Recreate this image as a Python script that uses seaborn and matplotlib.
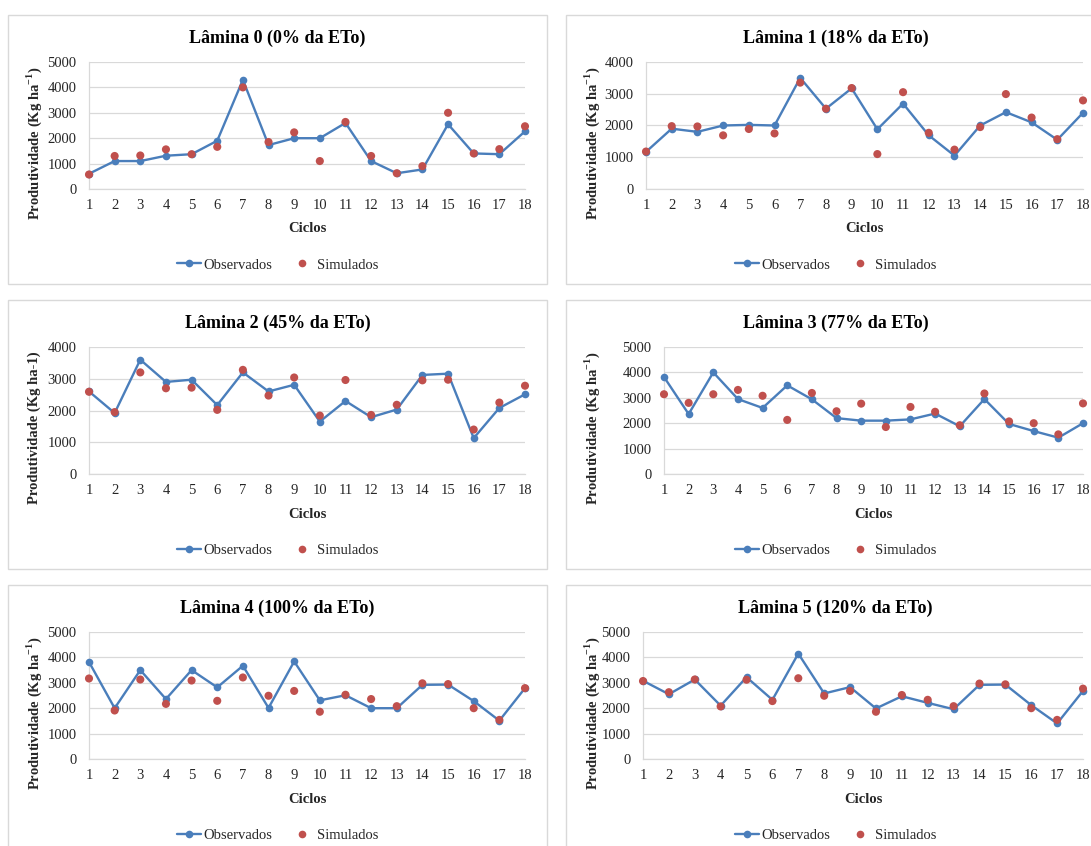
import matplotlib
matplotlib.use("Agg")
import matplotlib.pyplot as plt
from matplotlib.patches import Rectangle
from matplotlib.lines import Line2D
import seaborn as sns
import pandas as pd

# Yield per cycle (Kg ha-1) for each irrigation depth
ciclos = list(range(1, 19))

obs_l0 = [600, 1100, 1100, 1310, 1370, 1900, 4300, 1730, 2000, 2000, 2600, 1100, 620, 770, 2550, 1400, 1370, 2270]
sim_l0 = [570, 1300, 1320, 1560, 1370, 1660, 4000, 1850, 2230, 1100, 2640, 1300, 620, 900, 3000, 1400, 1570, 2470]

obs_l1 = [1170, 1900, 1800, 2000, 2020, 2000, 3500, 2530, 3170, 1880, 2690, 1690, 1050, 2000, 2420, 2100, 1550, 2400]
sim_l1 = [1180, 1980, 1970, 1690, 1890, 1750, 3350, 2530, 3180, 1100, 3050, 1770, 1240, 1950, 2990, 2250, 1570, 2790]

obs_l2 = [2600, 1920, 3600, 2900, 2970, 2170, 3200, 2600, 2810, 1650, 2300, 1790, 2030, 3120, 3160, 1130, 2080, 2510]
sim_l2 = [2590, 1950, 3200, 2700, 2720, 2020, 3280, 2470, 3040, 1840, 2960, 1860, 2180, 2950, 2970, 1400, 2250, 2780]

obs_l3 = [3820, 2360, 4000, 2950, 2600, 3490, 2940, 2200, 2100, 2100, 2150, 2380, 1880, 2950, 1970, 1690, 1430, 2000]
sim_l3 = [3140, 2800, 3140, 3310, 3080, 2130, 3190, 2470, 2770, 1850, 2640, 2450, 1920, 3170, 2070, 2000, 1560, 2780]

obs_l4 = [3820, 2000, 3500, 2360, 3500, 2820, 3670, 2010, 3840, 2310, 2510, 2000, 2000, 2920, 2930, 2280, 1510, 2790]
sim_l4 = [3170, 1910, 3130, 2170, 3090, 2290, 3210, 2490, 2680, 1860, 2530, 2360, 2080, 2980, 2950, 2000, 1540, 2790]

obs_l5 = [3080, 2550, 3130, 2100, 3220, 2330, 4150, 2580, 2830, 1990, 2470, 2210, 1960, 2920, 2930, 2120, 1400, 2680]
sim_l5 = [3070, 2630, 3130, 2070, 3120, 2280, 3180, 2490, 2680, 1860, 2520, 2330, 2080, 2970, 2940, 2000, 1540, 2770]

titulos = [
    "Lâmina 0 (0% da ETo)", "Lâmina 1 (18% da ETo)",
    "Lâmina 2 (45% da ETo)", "Lâmina 3 (77% da ETo)",
    "Lâmina 4 (100% da ETo)", "Lâmina 5 (120% da ETo)",
]
rotulos_y = [
    "Produtividade (Kg ha$^{\\mathbf{-1}}$)", "Produtividade (Kg ha$^{\\mathbf{-1}}$)",
    "Produtividade (Kg ha-1)", "Produtividade (Kg ha$^{\\mathbf{-1}}$)",
    "Produtividade (Kg ha$^{\\mathbf{-1}}$)", "Produtividade (Kg ha$^{\\mathbf{-1}}$)",
]
y_max = [5000, 4000, 4000, 5000, 5000, 5000]
observados = [obs_l0, obs_l1, obs_l2, obs_l3, obs_l4, obs_l5]
simulados = [sim_l0, sim_l1, sim_l2, sim_l3, sim_l4, sim_l5]

sns.set_theme(style="white")
plt.rcParams["font.family"] = ["Liberation Serif", "DejaVu Serif"]
plt.rcParams["mathtext.fontset"] = "custom"
plt.rcParams["mathtext.rm"] = "Liberation Serif"
plt.rcParams["mathtext.bf"] = "Liberation Serif:bold"

AZUL = "#4A7EBB"
VERMELHO = "#C0504D"
GRADE = "#D9D9D9"
TEXTO = "#262626"

W, H = 1091, 846
fig = plt.figure(figsize=(W / 100, H / 100), dpi=100, facecolor="white")

# panel frames (pixels): column x, row y, size
col_x = [8, 566]
row_y = [15, 300, 585]
box_w, box_h = 539, 269
plot_left = [81, 80, 81, 98, 81, 77]
plot_right = 517
plot_top, plot_bottom = 47, 174


def fx(px):
    return px / W


def fy(py):
    return 1 - py / H


for i in range(6):
    bx = col_x[i % 2]
    by = row_y[i // 2]
    fig.patches.append(Rectangle((fx(bx), fy(by + box_h)), box_w / W, box_h / H,
                                 transform=fig.transFigure, facecolor="white",
                                 edgecolor=GRADE, linewidth=1.0, zorder=-5))

    left = bx + plot_left[i]
    right = bx + plot_right
    top = by + plot_top
    bottom = by + plot_bottom
    pw, ph = right - left, bottom - top
    ax = fig.add_axes([fx(left), fy(bottom), pw / W, ph / H], zorder=2)
    ax.patch.set_alpha(0)

    df = pd.DataFrame({"Ciclo": ciclos, "Observados": observados[i], "Simulados": simulados[i]})
    sns.lineplot(data=df, x="Ciclo", y="Observados", ax=ax, color=AZUL, linewidth=1.7,
                 marker="o", markersize=5.5, markeredgewidth=0, legend=False,
                 clip_on=False, zorder=3)
    sns.scatterplot(data=df, x="Ciclo", y="Simulados", ax=ax, color=VERMELHO, s=34,
                    edgecolor="none", legend=False, clip_on=False, zorder=4)

    ax.set_xlim(1, 18)
    ax.set_ylim(0, y_max[i])
    ax.set_xticks(ciclos)
    ax.set_yticks(range(0, y_max[i] + 1, 1000))
    ax.yaxis.grid(True, color=GRADE, linewidth=0.9)
    ax.xaxis.grid(False)
    ax.set_axisbelow(True)
    for s in ["top", "right"]:
        ax.spines[s].set_visible(False)
    for s in ["left", "bottom"]:
        ax.spines[s].set_color(GRADE)
        ax.spines[s].set_linewidth(0.9)
    ax.tick_params(axis="x", length=0, pad=7, labelsize=10.5, labelcolor=TEXTO)
    ax.tick_params(axis="y", length=0, pad=9, labelsize=10.5, labelcolor=TEXTO)

    ax.set_xlabel("Ciclos", fontsize=10.5, fontweight="bold", color=TEXTO)
    ax.xaxis.set_label_coords(0.5, -40 / ph)
    ax.xaxis.label.set_va("center")

    ax.set_ylabel(rotulos_y[i], fontsize=10.5, fontweight="bold", color=TEXTO)
    ax.yaxis.set_label_coords((bx + 26 - left) / pw, (bottom - (by + 128)) / ph)
    ax.yaxis.label.set_va("center")

    fig.text(fx(bx + box_w / 2), fy(by + 23), titulos[i], ha="center", va="center",
             fontsize=13, fontweight="bold", color="black")

    handles = [
        Line2D([], [], color=AZUL, linewidth=1.7, marker="o", markersize=5.5, markeredgewidth=0),
        Line2D([], [], color=VERMELHO, linestyle="none", marker="o", markersize=5.5, markeredgewidth=0),
    ]
    ax.legend(handles, ["Observados", "Simulados"], loc="center",
              bbox_to_anchor=(fx(bx + box_w / 2), fy(by + 250)),
              bbox_transform=fig.transFigure, ncol=2, frameon=False,
              fontsize=10.5, handlelength=1.65, handletextpad=0.2,
              columnspacing=1.2, labelcolor=TEXTO)

fig.savefig("out.png", dpi=100, facecolor="white")
